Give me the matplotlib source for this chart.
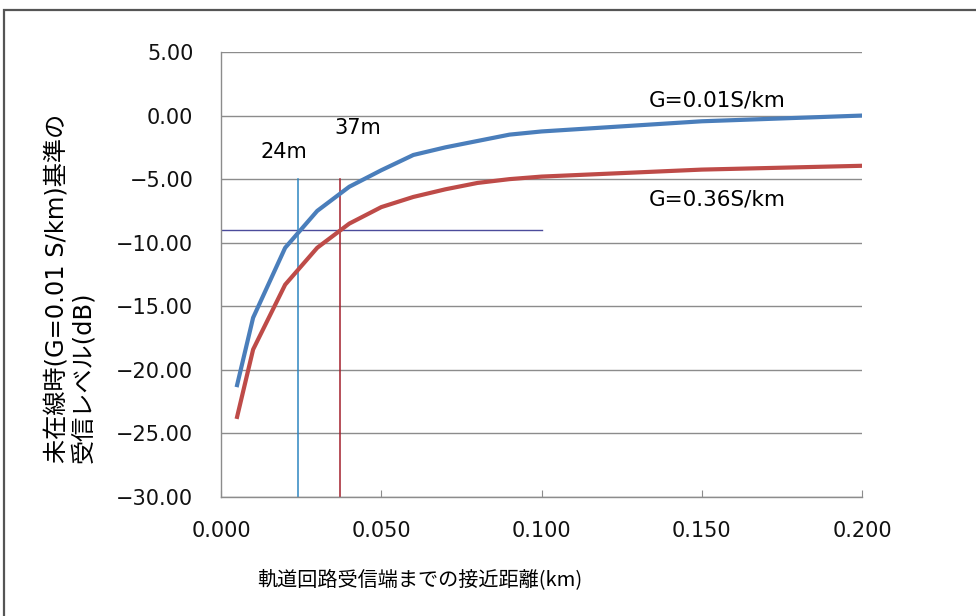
import matplotlib.pyplot as plt
from matplotlib.patches import Rectangle

plt.rcParams['font.family'] = ['DejaVu Sans', 'Noto Sans CJK JP']

# 接近距離 (km)
dist = [0.005, 0.01, 0.02, 0.03, 0.04, 0.05, 0.06, 0.07, 0.08, 0.09, 0.10, 0.15, 0.20]
# G=0.01 S/km
level_g001 = [-21.2, -15.9, -10.4, -7.5, -5.6, -4.3, -3.1, -2.5, -2.0, -1.5, -1.25, -0.45, 0.0]
# G=0.36 S/km
level_g036 = [-23.7, -18.4, -13.3, -10.4, -8.5, -7.2, -6.4, -5.8, -5.3, -5.0, -4.8, -4.25, -3.95]

ref_level = -9.0
cross_24 = 0.024
cross_37 = 0.037
yticks = [5, 0, -5, -10, -15, -20, -25, -30]
xticks = [0.0, 0.05, 0.10, 0.15, 0.20]

fig = plt.figure(figsize=(9.76, 6.16), dpi=100)
ax = fig.add_axes([0.2265, 0.1932, 0.6567, 0.7224])

# 外枠
fig.patches.append(Rectangle((4 / 976, -0.05), 1.1, 1 - 10 / 616 + 0.05,
                             transform=fig.transFigure, fill=False,
                             edgecolor='#555555', linewidth=1.6))

for y in yticks:
    ax.axhline(y, color='#8c8c8c', linewidth=1.0, zorder=1)

ax.plot([0, 0.10], [ref_level, ref_level], color='#4b4b9b', linewidth=1.0, zorder=2)
ax.plot([cross_24, cross_24], [-30, -5], color='#2e86c1', linewidth=1.1, zorder=2)
ax.plot([cross_37, cross_37], [-30, -5], color='#a3202c', linewidth=1.1, zorder=2)

ax.plot(dist, level_g001, color='#4a7ebb', linewidth=3.0, zorder=3)
ax.plot(dist, level_g036, color='#be4b48', linewidth=3.0, zorder=3)

ax.set_xlim(0, 0.2)
ax.set_ylim(-30, 5)
ax.set_yticks(yticks)
ax.set_yticklabels([f'{v:.2f}'.replace('-', '\u2212') for v in yticks])
ax.set_xticks(xticks)
ax.set_xticklabels([f'{v:.3f}' for v in xticks])
ax.tick_params(axis='y', length=0, pad=20, labelsize=15, colors='#111111')
ax.tick_params(axis='x', direction='in', length=5, color='#8c8c8c', pad=17,
               labelsize=15, labelcolor='#111111')

for s in ['top', 'right']:
    ax.spines[s].set_visible(False)
for s in ['left', 'bottom']:
    ax.spines[s].set_color('#8c8c8c')
    ax.spines[s].set_linewidth(1.0)

ax.text(0.0197, -2.83, '24m', fontsize=15, ha='center', va='center')
ax.text(0.0425, -0.94, '37m', fontsize=15, ha='center', va='center')
ax.text(0.1547, 1.18, 'G=0.01S/km', fontsize=15.5, ha='center', va='center')
ax.text(0.1547, -6.6, 'G=0.36S/km', fontsize=15.5, ha='center', va='center')

fig.text(0.0722, 0.532, '未在線時(G=0.01 S/km)基準の\n受信レベル(dB)', rotation=90,
         fontsize=17.4, ha='center', va='center', multialignment='left', linespacing=1.1)
fig.text(0.430, 1 - 580 / 616, '軌道回路受信端までの接近距離(km)', fontsize=14.5,
         family=['Noto Sans CJK JP', 'DejaVu Sans'], ha='center', va='center')

fig.savefig('out.png', dpi=100, facecolor='white')
